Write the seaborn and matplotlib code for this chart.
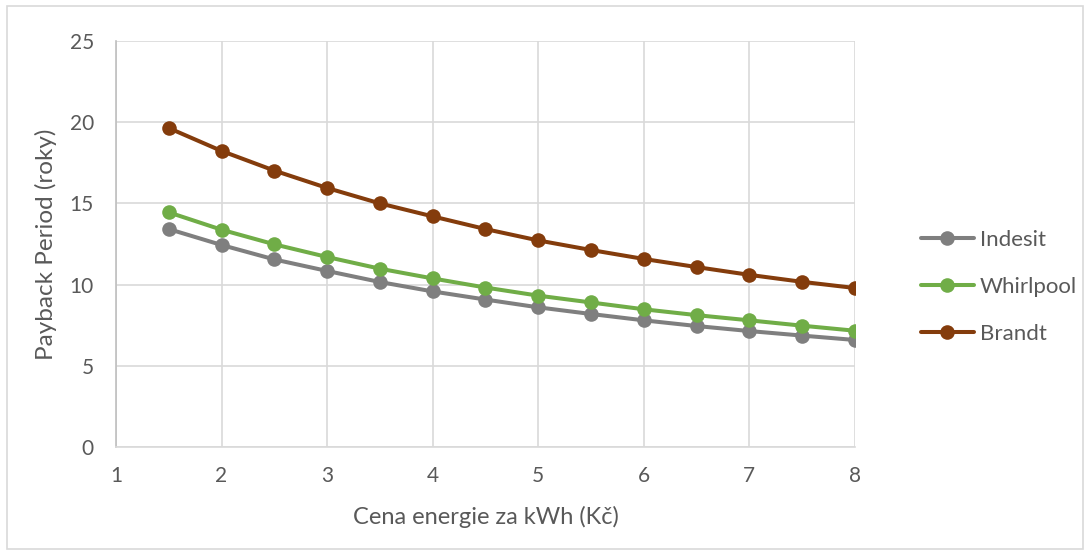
import numpy as np
import pandas as pd
import seaborn as sns
import matplotlib.pyplot as plt
from matplotlib.patches import Rectangle

price = [1.5, 2, 2.5, 3, 3.5, 4, 4.5, 5, 5.5, 6, 6.5, 7, 7.5, 8]
indesit = [13.42, 12.44, 11.55, 10.84, 10.16, 9.58, 9.08, 8.60, 8.19, 7.80, 7.45, 7.14, 6.86, 6.59]
whirlpool = [14.45, 13.38, 12.48, 11.70, 10.98, 10.38, 9.82, 9.32, 8.90, 8.48, 8.12, 7.80, 7.47, 7.16]
brandt = [19.64, 18.23, 17.02, 15.95, 15.00, 14.20, 13.42, 12.72, 12.13, 11.58, 11.08, 10.60, 10.17, 9.79]
series_names = ["Indesit", "Whirlpool", "Brandt"]
colors = {"Indesit": "#7f7f7f", "Whirlpool": "#70ad47", "Brandt": "#843c0c"}

df = pd.concat([
    pd.DataFrame({"price": price, "value": v, "series": n})
    for n, v in zip(series_names, [indesit, whirlpool, brandt])
])

sns.set_theme(style="white")
plt.rcParams['font.family'] = ['Lato', 'DejaVu Sans']
txt = "#595959"

fig = plt.figure(figsize=(10.9, 5.52), dpi=100)
ax = fig.add_axes([0.1064, 0.1902, 0.678, 0.7355])

sns.lineplot(data=df, x="price", y="value", hue="series", hue_order=series_names,
             palette=colors, marker="o", markersize=10.5, markeredgewidth=0,
             linewidth=2.9, ax=ax, sort=False)

ax.set_xlim(1, 8)
ax.set_ylim(0, 25)
ax.set_xticks(range(1, 9))
ax.set_yticks(range(0, 26, 5))
ax.grid(True, color="#d9d9d9", linewidth=1.2)
ax.set_axisbelow(True)
for s in ["top", "right"]:
    ax.spines[s].set_visible(False)
ax.spines["left"].set_color("#bfbfbf")
ax.spines["bottom"].set_color("#d9d9d9")
ax.spines["left"].set_linewidth(1.2)
ax.spines["bottom"].set_linewidth(1.2)
ax.tick_params(axis="both", length=0, labelsize=15, colors=txt)
ax.tick_params(axis="x", pad=14)
ax.tick_params(axis="y", pad=16)
ax.set_xlabel("Cena energie za kWh (Kč)", fontsize=17, color=txt, labelpad=14)
ax.set_ylabel("Payback Period (roky)", fontsize=17.5, color=txt, labelpad=9)

handles, labels = ax.get_legend_handles_labels()
leg = ax.legend(handles, labels, loc="center left", bbox_to_anchor=(1.062, 0.394),
                frameon=False, fontsize=16, labelcolor=txt, handlelength=2.4,
                handletextpad=0.27, labelspacing=1.22)

fig.patches.append(Rectangle((0.006, 0.005), 0.988, 0.985, transform=fig.transFigure,
                             fill=False, edgecolor="#d9d9d9", linewidth=1.2))

fig.savefig("out.png", dpi=100)
